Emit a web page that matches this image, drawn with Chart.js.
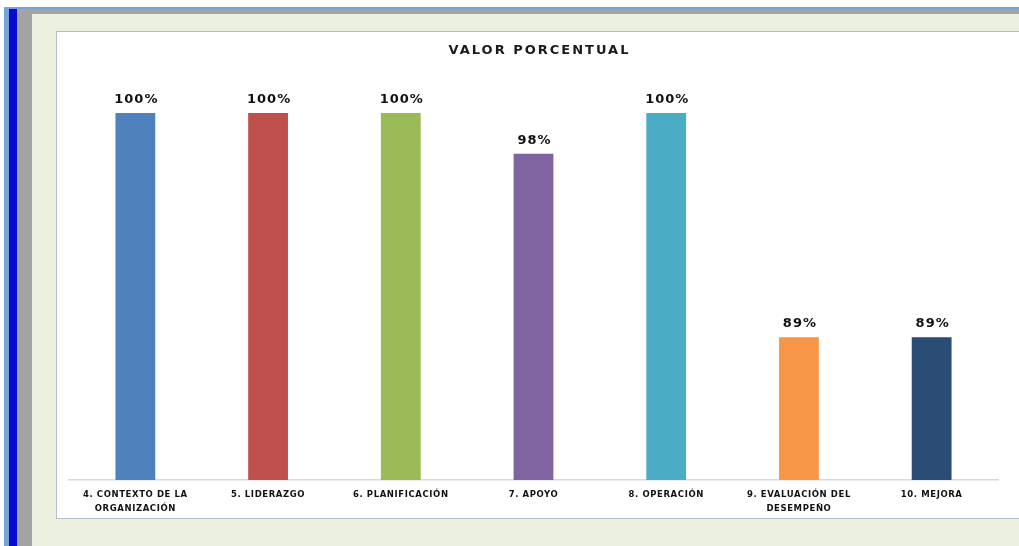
<!DOCTYPE html>
<html lang="es">
<head>
<meta charset="utf-8">
<title>Valor porcentual</title>
<script src="https://cdn.jsdelivr.net/npm/chart.js@4.4.1/dist/chart.umd.min.js"></script>
<style>
  html, body { margin: 0; padding: 0; width: 1019px; height: 546px; overflow: hidden; background: #ffffff; }
  .band { position: absolute; }
  #lightblue { left: 4px; top: 7px; right: 0; bottom: 0; background: #74a3da; }
  #darkblue  { left: 9px; top: 9px; width: 8px; bottom: 0; background: #0a0ad0; }
  #grey      { left: 17px; top: 9px; right: 0; bottom: 0; background: #a3a3a3; }
  #beige     { left: 32px; top: 14px; right: 0; bottom: 0; background: #ebf0df; }
  #panel {
    position: absolute; left: 56px; top: 31px; width: 970px; height: 486px;
    background: #ffffff; border: 1px solid #b4bfcc; border-right: none;
  }
  #panel canvas { display: block; }
</style>
</head>
<body>
<div class="band" id="lightblue"></div>
<div class="band" id="darkblue"></div>
<div class="band" id="grey"></div>
<div class="band" id="beige"></div>
<div id="panel"><canvas id="chart" width="963" height="486"></canvas></div>

<script>
// Clauses evaluated and their compliance percentage
const categories = [
  ["4. CONTEXTO DE LA", "ORGANIZACIÓN"],
  ["5. LIDERAZGO"],
  ["6. PLANIFICACIÓN"],
  ["7. APOYO"],
  ["8. OPERACIÓN"],
  ["9. EVALUACIÓN DEL", "DESEMPEÑO"],
  ["10. MEJORA"]
];
const percentages = [100, 100, 100, 98, 100, 89, 89];
const barColors = ["#4f81bd", "#c0504d", "#9bbb59", "#8064a2", "#4bacc6", "#f79646", "#2b4c74"];
const chartTitle = "VALOR PORCENTUAL";

// Title drawn with a little letter spacing
const spacedTitle = {
  id: "spacedTitle",
  beforeDraw(chart) {
    const ctx = chart.ctx;
    ctx.letterSpacing = "0.6px";
  },
  afterDraw(chart) {
    const ctx = chart.ctx;
    ctx.save();
    ctx.letterSpacing = "2px";
    ctx.font = 'bold 13px "DejaVu Sans"';
    ctx.fillStyle = "#1a1a1a";
    ctx.textAlign = "center";
    ctx.textBaseline = "middle";
    ctx.fillText(chartTitle, chart.width / 2 + 1, 19);
    ctx.restore();
  }
};

// Percentage labels above each bar
const valueLabels = {
  id: "valueLabels",
  afterDatasetsDraw(chart) {
    const ctx = chart.ctx;
    const meta = chart.getDatasetMeta(0);
    ctx.save();
    ctx.letterSpacing = "1px";
    ctx.font = 'bold 13px "DejaVu Sans"';
    ctx.fillStyle = "#111111";
    ctx.textAlign = "center";
    ctx.textBaseline = "alphabetic";
    meta.data.forEach((bar, i) => {
      ctx.fillText(percentages[i] + "%", bar.x + 1, bar.y - 10);
    });
    ctx.restore();
  }
};

new Chart(document.getElementById("chart"), {
  type: "bar",
  data: {
    labels: categories,
    datasets: [{
      data: percentages,
      backgroundColor: barColors,
      borderWidth: 0,
      barPercentage: 0.3,
      categoryPercentage: 1.0
    }]
  },
  options: {
    responsive: false,
    animation: false,
    events: [],
    layout: { padding: { top: 81, left: 12, right: 22, bottom: 0 } },
    plugins: {
      legend: { display: false },
      title: { display: false },
      tooltip: { enabled: false }
    },
    scales: {
      x: {
        grid: { display: false, drawTicks: false },
        border: { display: true, color: "#d9d9d9", width: 1.5 },
        ticks: {
          padding: 8,
          maxRotation: 0,
          autoSkip: false,
          color: "#111111",
          font: { family: "DejaVu Sans", size: 8.5, weight: "bold", lineHeight: 1.6 }
        },
        afterFit(scale) { scale.height = 38; }
      },
      y: {
        display: false,
        min: 82,
        max: 100
      }
    }
  },
  plugins: [spacedTitle, valueLabels]
});
</script>
</body>
</html>
